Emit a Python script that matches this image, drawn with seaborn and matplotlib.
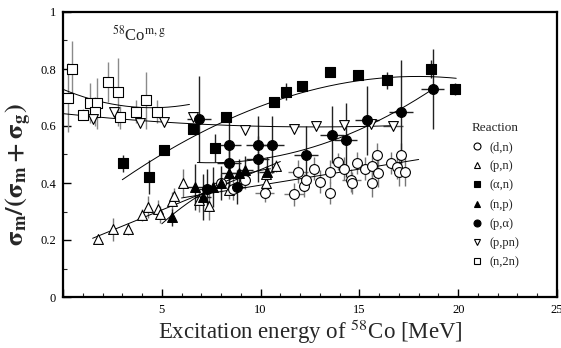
import numpy as np
import pandas as pd
import seaborn as sns
import matplotlib
matplotlib.use("Agg")
import matplotlib.pyplot as plt
from matplotlib.lines import Line2D

# ---------------- data ----------------
dn_x = [8.0, 8.6, 9.2, 10.2, 11.7, 11.9, 12.2, 12.3, 12.7, 13.0, 13.5, 13.5, 13.9, 14.2,
        14.6, 14.65, 14.9, 15.3, 15.65, 15.65, 15.9, 15.96, 16.6, 16.9, 17.0, 17.1, 17.3]
dn_y = [0.40, 0.38, 0.41, 0.365, 0.36, 0.44, 0.39, 0.41, 0.45, 0.405, 0.44, 0.365, 0.475, 0.45,
        0.41, 0.40, 0.47, 0.45, 0.46, 0.40, 0.50, 0.435, 0.47, 0.455, 0.44, 0.50, 0.44]
dn_ye = [0.03, 0.04, 0.03, 0.03, 0.04, 0.04, 0.04, 0.03, 0.04, 0.04, 0.04, 0.04, 0.03, 0.04,
         0.04, 0.04, 0.04, 0.04, 0.04, 0.05, 0.04, 0.05, 0.04, 0.04, 0.05, 0.04, 0.05]
dn_xe = [0.0, 0.0, 0.0, 0.5, 0.5, 0.5, 0.0, 0.0, 0.0, 0.0, 0.0, 0.0, 0.0, 0.0,
         0.5, 0.0, 0.0, 0.0, 0.0, 0.0, 0.0, 0.0, 0.0, 0.0, 0.0, 0.0, 0.0]

pn_x = [1.77, 2.53, 3.28, 3.99, 4.29, 4.8, 4.9, 5.5, 5.6, 6.06, 6.87, 7.37, 8.4, 10.25, 10.25, 10.8]
pn_y = [0.204, 0.238, 0.238, 0.288, 0.316, 0.309, 0.29, 0.337, 0.354, 0.40, 0.34, 0.32, 0.375, 0.40, 0.43, 0.46]
pn_ye = [0.01, 0.04, 0.02, 0.02, 0.04, 0.03, 0.03, 0.03, 0.03, 0.05, 0.04, 0.05, 0.03, 0.03, 0.03, 0.02]

an_x = [3.03, 4.34, 5.1, 6.57, 7.68, 8.23, 10.66, 11.3, 12.07, 13.5, 14.95, 16.4, 18.6, 19.85]
an_y = [0.47, 0.42, 0.516, 0.59, 0.523, 0.63, 0.685, 0.72, 0.74, 0.79, 0.78, 0.76, 0.80, 0.73]
an_ye = [0.03, 0.06, 0.01, 0.01, 0.05, 0.01, 0.01, 0.03, 0.01, 0.01, 0.01, 0.03, 0.03, 0.02]

np_x = [5.5, 6.67, 7.07, 7.6, 8.0, 8.4, 8.9, 9.2, 10.3]
np_y = [0.28, 0.386, 0.35, 0.386, 0.40, 0.435, 0.435, 0.445, 0.44]
np_ye = [0.03, 0.08, 0.08, 0.07, 0.06, 0.05, 0.05, 0.05, 0.05]
np_xe = [0.0, 0.4, 0.4, 0.4, 0.4, 0.4, 0.4, 0.4, 0.4]

pa_x = [6.9, 7.3, 8.4, 8.4, 8.8, 9.85, 9.85, 10.6, 12.3, 13.6, 14.3, 15.4, 17.1, 18.7]
pa_y = [0.625, 0.38, 0.535, 0.47, 0.385, 0.535, 0.485, 0.535, 0.50, 0.57, 0.55, 0.62, 0.65, 0.73]
pa_ye = [0.15, 0.07, 0.10, 0.08, 0.06, 0.10, 0.08, 0.10, 0.10, 0.10, 0.13, 0.12, 0.18, 0.14]
pa_xe = [0.6, 0.4, 0.6, 0.6, 0.4, 0.6, 0.6, 0.6, 0.6, 0.6, 0.6, 0.6, 0.6, 0.6]

ppn_x = [1.5, 2.6, 3.9, 5.1, 6.6, 9.2, 11.7, 12.8, 14.2, 15.6, 16.7]
ppn_y = [0.625, 0.65, 0.61, 0.615, 0.63, 0.585, 0.59, 0.60, 0.605, 0.607, 0.60]
ppn_xe = [0.0, 0.0, 0.0, 0.0, 0.0, 0.0, 0.0, 0.0, 0.0, 0.0, 0.5]

n2n_x = [0.45, 0.25, 1.0, 1.36, 1.7, 1.6, 2.3, 2.8, 2.9, 3.7, 4.2, 4.75]
n2n_y = [0.80, 0.70, 0.64, 0.68, 0.68, 0.65, 0.755, 0.72, 0.63, 0.65, 0.69, 0.65]
n2n_ye = [0.10, 0.12, 0.02, 0.07, 0.09, 0.05, 0.07, 0.12, 0.04, 0.04, 0.10, 0.04]

# fitted curves (knots)
fit_n2n_x = [0.0, 1.5, 4.0, 6.4]
fit_n2n_y = [0.73, 0.69, 0.667, 0.675]
fit_ppn_x = [0.0, 3.0, 6.4, 12.0, 16.8]
fit_ppn_y = [0.645, 0.622, 0.607, 0.60, 0.60]
fit_an_x = [3.0, 5.5, 7.0, 9.0, 11.0, 13.0, 15.0, 17.0, 19.9]
fit_an_y = [0.41, 0.52, 0.585, 0.64, 0.69, 0.73, 0.76, 0.778, 0.765]
fit_pa_x = [6.8, 9.0, 12.0, 14.0, 16.0, 17.0, 18.7]
fit_pa_y = [0.47, 0.48, 0.51, 0.56, 0.62, 0.655, 0.73]
fit_pn_x = [1.5, 6.0, 11.0]
fit_pn_y = [0.20, 0.345, 0.47]
fit_np_x = [5.0, 5.9, 7.5, 10.5]
fit_np_y = [0.256, 0.31, 0.38, 0.45]
fit_dn_x = [6.0, 12.0, 18.0]
fit_dn_y = [0.345, 0.42, 0.48]

reactions = ["(d,n)", "(p,n)", "(\u03b1,n)", "(n,p)", "(p,\u03b1)", "(p,pn)", "(n,2n)"]
y_ticks = [0, 0.2, 0.4, 0.6, 0.8, 1.0]
y_ticklabels = ["0", "0.2", "0.4", "0.6", "0.8", "1"]
x_ticks = [0, 5, 10, 15, 20, 25]
x_ticklabels = ["", "5", "10", "15", "20", "25"]

# ---------------- styling ----------------
sns.set_theme(style="ticks")
plt.rcParams["font.family"] = ["Liberation Serif", "DejaVu Serif"]
plt.rcParams["mathtext.fontset"] = "stix"

fig = plt.figure(figsize=(5.61, 3.48), dpi=100)
ax = fig.add_axes([63 / 561, 51 / 348, 494 / 561, 285 / 348])

def series(x, y, ye, xe, marker, filled, size, ecolor):
    xe_arr = None if xe is None else np.array(xe)
    ye_arr = None if ye is None else np.array(ye)
    ax.errorbar(x, y, yerr=ye_arr, xerr=xe_arr, fmt="none", ecolor=ecolor,
                elinewidth=1.0, capsize=0, zorder=2)
    df = pd.DataFrame({"x": x, "y": y})
    sns.scatterplot(data=df, x="x", y="y", ax=ax, marker=marker, s=size,
                    facecolor="black" if filled else "white", edgecolor="black",
                    linewidth=0.8, zorder=4, legend=False)

def fit(xk, yk, deg):
    c = np.polyfit(xk, yk, deg)
    xx = np.linspace(min(xk), max(xk), 200)
    sns.lineplot(x=xx, y=np.polyval(c, xx), ax=ax, color="black", lw=0.7,
                 zorder=3, legend=False, sort=False)

# fits
fit(fit_n2n_x, fit_n2n_y, 2)
fit(fit_ppn_x, fit_ppn_y, 2)
fit(fit_an_x, fit_an_y, 3)
fit(fit_pa_x, fit_pa_y, 2)
fit(fit_pn_x, fit_pn_y, 1)
fit(fit_np_x, fit_np_y, 2)
fit(fit_dn_x, fit_dn_y, 1)

# data
series(n2n_x, n2n_y, n2n_ye, None, "s", False, 50, "#8a8a8a")
series(ppn_x, ppn_y, None, ppn_xe, "v", False, 50, "#555555")
series(pn_x, pn_y, pn_ye, None, "^", False, 50, "#777777")
series(dn_x, dn_y, dn_ye, dn_xe, "o", False, 50, "#777777")
series(an_x, an_y, an_ye, None, "s", True, 50, "#222222")
series(np_x, np_y, np_ye, np_xe, "^", True, 50, "#222222")
series(pa_x, pa_y, pa_ye, pa_xe, "o", True, 50, "#222222")

# axes
ax.set_xlim(0, 25)
ax.set_ylim(0, 1)
ax.set_xticks(x_ticks)
ax.set_xticklabels(x_ticklabels)
ax.set_yticks(y_ticks)
ax.set_yticklabels(y_ticklabels)
ax.set_xticks(np.arange(1, 25, 1), minor=True)
ax.set_yticks(np.arange(0.1, 1.0, 0.2), minor=True)
ax.tick_params(which="major", direction="in", length=6, width=1.0, labelsize=9,
               colors="black", pad=5)
ax.tick_params(which="minor", direction="in", length=3, width=0.8)
for sp in ax.spines.values():
    sp.set_linewidth(1.6)
    sp.set_color("black")
    sp.set_visible(True)

ax.set_xlabel("Excitation energy of $^{58}$Co [MeV]", fontsize=16.5)
ax.xaxis.set_label_coords(0.5, -0.07)
ax.set_ylabel(r"$\mathbf{\sigma_m/(\sigma_m+\sigma_g)}$", fontsize=19)
ax.yaxis.set_label_coords(-0.058, 0.43)
ax.text(0.1, 0.9, "$^{58}$Co$^{\\mathrm{m,g}}$", transform=ax.transAxes, fontsize=12)

# legend
markers = ["o", "^", "s", "^", "o", "v", "s"]
fills = [False, False, True, True, True, False, False]
handles = [Line2D([], [], ls="none", marker=m, markersize=5,
                  markerfacecolor="black" if f else "white",
                  markeredgecolor="black", markeredgewidth=0.8)
           for m, f in zip(markers, fills)]
leg = ax.legend(handles, reactions, title="Reaction", loc="upper left",
                bbox_to_anchor=(0.81, 0.645), frameon=False, fontsize=9,
                title_fontsize=9.5, handlelength=0.8, handletextpad=0.6,
                labelspacing=0.58, borderpad=0.2)
leg._legend_box.align = "left"

fig.savefig("out.png", dpi=100)
